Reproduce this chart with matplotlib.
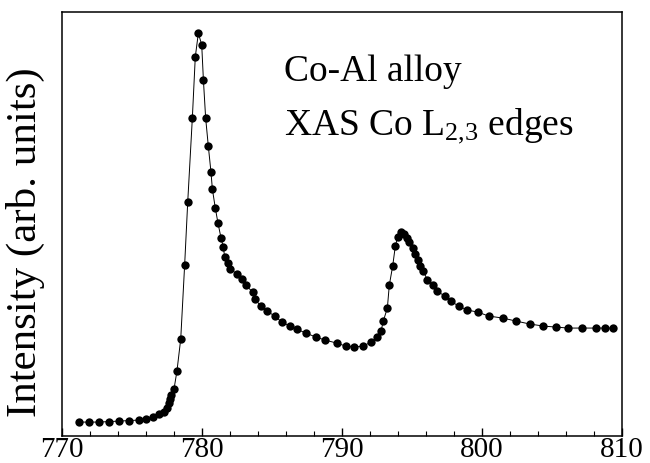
import numpy as np
import matplotlib

matplotlib.use('Agg')
import matplotlib.pyplot as plt
from matplotlib.ticker import MultipleLocator

# photon energy (eV) and intensity (arb. units)
energy = [771.24, 771.93, 772.62, 773.36, 774.10, 774.76, 775.48, 776.00, 776.50, 776.95,
          777.29, 777.48, 777.62, 777.71, 777.81, 778.00, 778.21, 778.48, 778.76, 778.98,
          779.31, 779.52, 779.74, 779.98, 780.10, 780.26, 780.45, 780.64, 780.74, 780.95,
          781.14, 781.36, 781.52, 781.62, 781.88, 782.00, 782.52, 782.83, 783.12, 783.62,
          783.79, 784.19, 784.62, 785.21, 785.69, 786.29, 786.76, 787.41, 788.14, 788.79,
          789.62, 790.26, 790.88, 791.52, 792.07, 792.52, 792.79, 792.95, 793.24, 793.38,
          793.62, 793.81, 793.98, 794.21, 794.43, 794.67, 794.81, 795.05, 795.24, 795.40,
          795.57, 795.81, 796.10, 796.48, 796.76, 797.36, 797.76, 798.33, 798.95, 799.69,
          800.48, 801.48, 802.43, 803.43, 804.38, 805.26, 806.17, 807.12, 808.14, 808.79,
          809.38]
intensity = [14, 14, 14, 14.5, 15, 15.5, 16, 17.5, 19.5, 22,
             24, 28, 33, 37, 41, 47, 65, 97, 171, 234,
             318, 379, 403, 391, 356, 318, 290, 264, 247, 228,
             213, 198, 189, 179, 173, 167, 162, 157, 151, 144,
             137, 130, 125, 120, 114, 110, 107, 103, 99, 96,
             93, 90, 89, 90, 94, 99, 105, 115, 128, 151,
             170, 190, 199, 204, 202, 198, 194, 188, 182, 176,
             170, 165, 156, 151, 145, 140, 135, 130, 126, 124,
             120, 118, 115, 112, 110, 109, 108, 108, 108, 108,
             108]

plt.rcParams['font.family'] = ['Liberation Serif', 'DejaVu Serif']
plt.rcParams['mathtext.fontset'] = 'custom'
plt.rcParams['mathtext.rm'] = 'Liberation Serif'
plt.rcParams['mathtext.it'] = 'Liberation Serif:italic'

fig = plt.figure(figsize=(6.5, 4.64), dpi=100)
ax = fig.add_axes([0.0954, 0.058, 0.8615, 0.914])

ax.plot(energy, intensity, '-', color='black', lw=0.7,
        marker='o', markersize=6, markerfacecolor='black', markeredgewidth=0)

ax.set_xlim(770, 810)
ax.set_ylim(0, 424)
ax.xaxis.set_major_locator(MultipleLocator(10))
ax.xaxis.set_minor_locator(MultipleLocator(2))
ax.tick_params(axis='x', which='major', direction='in', length=6, width=1,
               labelsize=21, pad=0)
ax.tick_params(axis='x', which='minor', direction='in', length=3.5, width=0.8)
ax.set_yticks([])
for s in ax.spines.values():
    s.set_linewidth(1.1)

fig.text(25 / 650, 1 - 242 / 464, 'Intensity (arb. units)', fontsize=31,
         rotation=90, ha='center', va='center')

ax.text(0.397, 0.84, 'Co-Al alloy', transform=ax.transAxes, fontsize=27)
ax.text(0.397, 0.712, r'XAS Co L$_{\mathrm{2{,}3}}$ edges', transform=ax.transAxes,
        fontsize=27)

fig.savefig('out.png', dpi=100)
